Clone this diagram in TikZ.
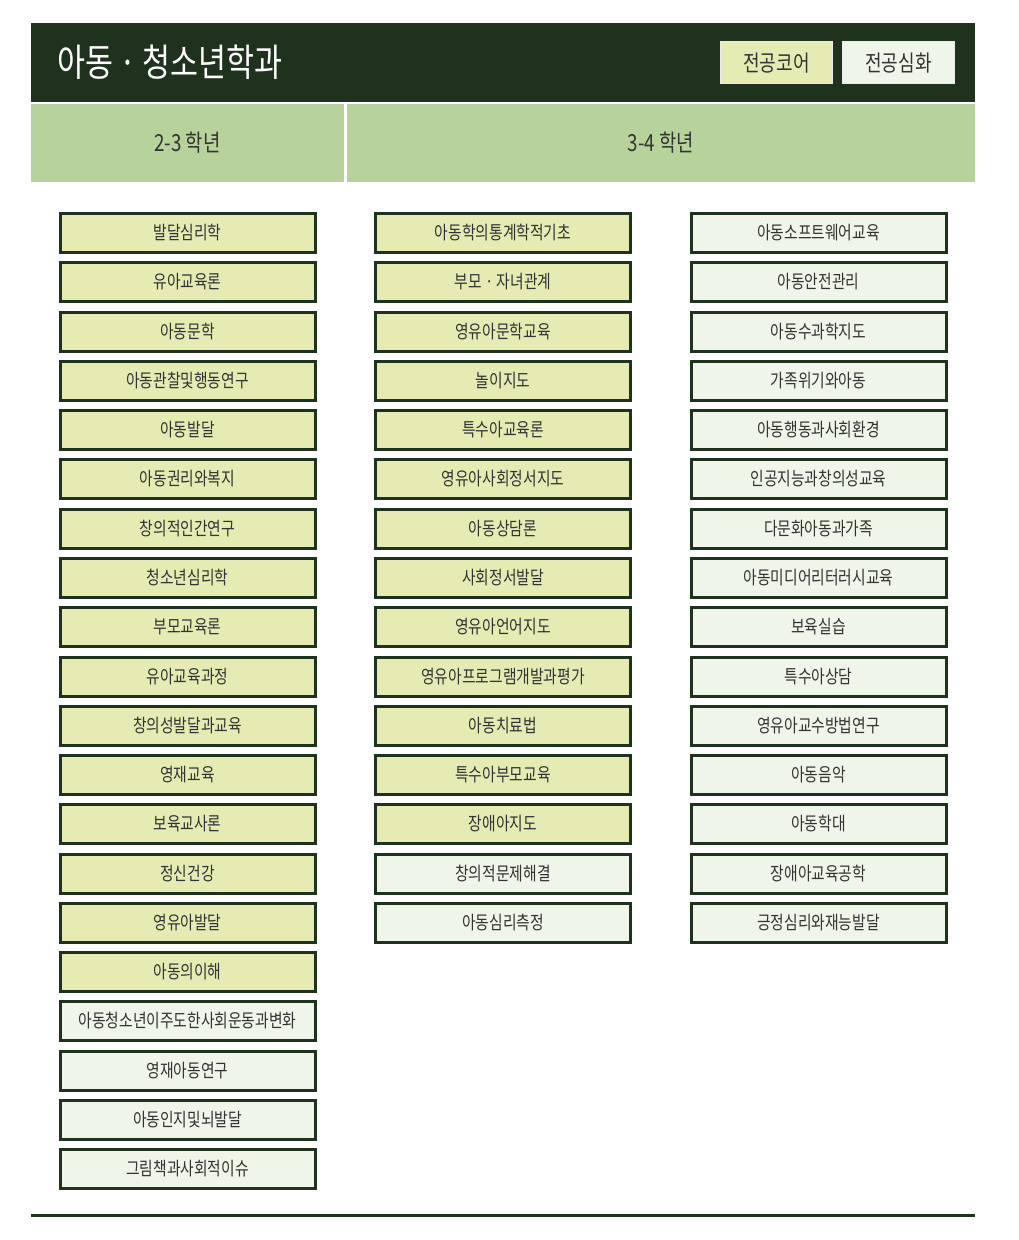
\documentclass[tikz,border=0pt]{standalone}
\usepackage{fontspec}
\newfontfamily\krfont[FakeStretch=0.8]{Noto Sans CJK KR}
\definecolor{headdark}{HTML}{1E321D}
\definecolor{yeargreen}{HTML}{B8D29B}
\definecolor{corefill}{HTML}{E5EBB3}
\definecolor{advfill}{HTML}{EFF5E8}
\definecolor{textgray}{HTML}{333333}

\begin{document}
\begin{tikzpicture}[x=1pt, y=-1pt,
		every node/.style={font=\krfont, text=textgray, inner sep=0pt},
		course/.style={draw=headdark, line width=3pt, minimum width=255pt, minimum height=39pt, font=\krfont\fontsize{18.5}{20}\selectfont},
		core/.style={course, fill=corefill},
		adv/.style={course, fill=advfill},
		yearcell/.style={fill=yeargreen, minimum height=78pt, font=\krfont\fontsize{23.5}{25}\selectfont},
		legendbox/.style={draw=white!92!black, line width=1pt, minimum width=112pt, minimum height=42pt, font=\krfont\fontsize{22.5}{24}\selectfont}]
				\useasboundingbox[fill=white] (0,0) rectangle (1018,1240);

				% Header
				\fill[headdark] (31,23) rectangle (975,102);
				\node[anchor=west, text=white, font=\krfont\fontsize{38}{40}\selectfont] (title) at (57,62) {아동\,·\,청소년학과};
				\node[legendbox, fill=corefill] (corekey) at (776.5,62.8) {전공코어};
				\node[legendbox, fill=advfill] (advkey) at (898.5,62.8) {전공심화};
				\node[yearcell, minimum width=313pt] (year23) at (187.5,143) {2-3 학년};
				\node[yearcell, minimum width=628pt] (year34) at (661,143) {3-4 학년};

				% Nodes: 2-3 grade
				\node[core] (a1) at (187.5,233) {발달심리학};
				\node[core] (a2) at (187.5,282) {유아교육론};
				\node[core] (a3) at (187.5,332) {아동문학};
				\node[core] (a4) at (187.5,381) {아동관찰및행동연구};
				\node[core] (a5) at (187.5,430) {아동발달};
				\node[core] (a6) at (187.5,479) {아동권리와복지};
				\node[core] (a7) at (187.5,529) {창의적인간연구};
				\node[core] (a8) at (187.5,578) {청소년심리학};
				\node[core] (a9) at (187.5,627) {부모교육론};
				\node[core] (a10) at (187.5,677) {유아교육과정};
				\node[core] (a11) at (187.5,726) {창의성발달과교육};
				\node[core] (a12) at (187.5,775) {영재교육};
				\node[core] (a13) at (187.5,824) {보육교사론};
				\node[core] (a14) at (187.5,874) {정신건강};
				\node[core] (a15) at (187.5,923) {영유아발달};
				\node[core] (a16) at (187.5,972) {아동의이해};
				\node[adv] (a17) at (187.5,1021) {아동청소년이주도한사회운동과변화};
				\node[adv] (a18) at (187.5,1071) {영재아동연구};
				\node[adv] (a19) at (187.5,1120) {아동인지및뇌발달};
				\node[adv] (a20) at (187.5,1169) {그림책과사회적이슈};

				% Nodes: 3-4 grade
				\node[core] (b1) at (503,233) {아동학의통계학적기초};
				\node[core] (b2) at (503,282) {부모 · 자녀관계};
				\node[core] (b3) at (503,332) {영유아문학교육};
				\node[core] (b4) at (503,381) {놀이지도};
				\node[core] (b5) at (503,430) {특수아교육론};
				\node[core] (b6) at (503,479) {영유아사회정서지도};
				\node[core] (b7) at (503,529) {아동상담론};
				\node[core] (b8) at (503,578) {사회정서발달};
				\node[core] (b9) at (503,627) {영유아언어지도};
				\node[core] (b10) at (503,677) {영유아프로그램개발과평가};
				\node[core] (b11) at (503,726) {아동치료법};
				\node[core] (b12) at (503,775) {특수아부모교육};
				\node[core] (b13) at (503,824) {장애아지도};
				\node[adv] (b14) at (503,874) {창의적문제해결};
				\node[adv] (b15) at (503,923) {아동심리측정};

				\node[adv] (c1) at (818.5,233) {아동소프트웨어교육};
				\node[adv] (c2) at (818.5,282) {아동안전관리};
				\node[adv] (c3) at (818.5,332) {아동수과학지도};
				\node[adv] (c4) at (818.5,381) {가족위기와아동};
				\node[adv] (c5) at (818.5,430) {아동행동과사회환경};
				\node[adv] (c6) at (818.5,479) {인공지능과창의성교육};
				\node[adv] (c7) at (818.5,529) {다문화아동과가족};
				\node[adv] (c8) at (818.5,578) {아동미디어리터러시교육};
				\node[adv] (c9) at (818.5,627) {보육실습};
				\node[adv] (c10) at (818.5,677) {특수아상담};
				\node[adv] (c11) at (818.5,726) {영유아교수방법연구};
				\node[adv] (c12) at (818.5,775) {아동음악};
				\node[adv] (c13) at (818.5,824) {아동학대};
				\node[adv] (c14) at (818.5,874) {장애아교육공학};
				\node[adv] (c15) at (818.5,923) {긍정심리와재능발달};

				% Footer rule
				\coordinate (footl) at (31,1215);
				\coordinate (footr) at (975,1215);
				\draw[headdark, line width=3pt] (footl) -- (footr);
			\end{tikzpicture}
\end{document}
